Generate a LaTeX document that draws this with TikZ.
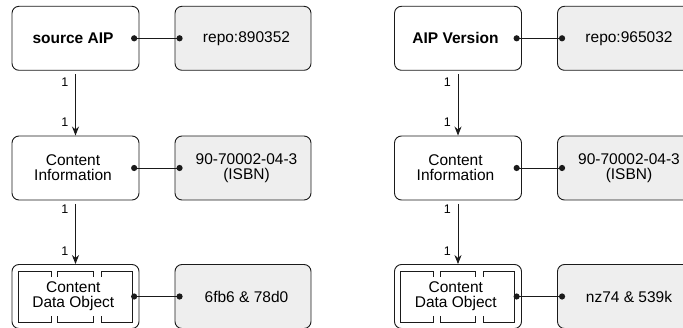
\documentclass[tikz,border=0pt]{standalone}
\usepackage{fontspec}
\setmainfont{Liberation Sans}
\usetikzlibrary{arrows.meta,calc}
\definecolor{greyfill}{HTML}{EEEEEE}
\definecolor{edge}{HTML}{1A1A1A}
\begin{document}
\begin{tikzpicture}[x=1pt,y=-1pt,
  obj/.style={draw=edge, line width=0.9pt, rounded corners=7pt, minimum width=127pt, minimum height=64pt, fill=white, inner sep=0pt},
  refbox/.style={draw=edge, line width=0.9pt, rounded corners=7pt, minimum width=136pt, minimum height=64pt, fill=greyfill, inner sep=0pt},
  txt/.style={font=\fontsize{15.5}{15}\selectfont, align=center, inner sep=0pt},
  objtxt/.style={txt, xshift=-2.5pt},
  reftxt/.style={txt, xshift=3.5pt},
  cdotxt/.style={txt, xshift=-2.2pt, fill=white, inner xsep=1pt, inner ysep=4.5pt},
  card/.style={font=\fontsize{12.5}{12.5}\selectfont, inner sep=0pt, anchor=east},
  arr/.style={draw=edge, line width=0.9pt, -{Stealth[length=9pt,width=7pt]}, shorten <=3.5pt},
  link/.style={draw=edge, line width=0.9pt},
  dotfill/.style={fill=edge},
  part/.style={draw=edge, line width=0.9pt}
]
\useasboundingbox (0,0) rectangle (683,328);

% ---------- left column ----------
\node[obj] (L1) at (75.5,38.3) {};
\node[objtxt] (L1t) at (L1) {\bfseries source AIP};
\node[refbox] (R1) at (243,38.3) {};
\node[reftxt] (R1t) at (R1) {repo:890352};

\node[obj] (L2) at (75.5,168) {};
\node[objtxt] (L2t) at (L2) {Content\\Information};
\node[refbox] (R2) at (243,168) {};
\node[reftxt] (R2t) at (R2) {90-70002-04-3\\(ISBN)};

\node[obj] (L3) at (75.5,296.5) {};
\begin{scope}[shift={(L3.center)}]
  \draw[part] (-57.2,-25.5) rectangle (-24.5,25.5);
  \draw[part] (-17.8,-25.5) rectangle (17.8,25.5);
  \draw[part] (25.5,-25.5) rectangle (56.8,25.5);
\end{scope}
\node[cdotxt] (L3t) at (L3) {Content\\Data Object};
\node[refbox] (R3) at (243,296.5) {};
\node[reftxt] (R3t) at (R3) {6fb6 \& 78d0};

% connectors left
\foreach \r in {1,2,3}{
  \coordinate (La\r) at ($(L\r.east)+(-5.3,0)$);
  \coordinate (Lb\r) at ($(R\r.west)+(5,0)$);
  \draw[link] (La\r) -- (Lb\r);
  \fill[dotfill] (La\r) circle (3.1pt);
  \fill[dotfill] (Lb\r) circle (3.1pt);
}
\draw[arr] (L1) -- (L2);
\draw[arr] (L2) -- (L3);
\node[card] (Lc1) at ($(L1.south)+(-7,11.3)$) {1};
\node[card] (Lc2) at ($(L2.north)+(-7,-13.2)$) {1};
\node[card] (Lc3) at ($(L2.south)+(-7,8.7)$) {1};
\node[card] (Lc4) at ($(L3.north)+(-7,-12.5)$) {1};

% ---------- right column ----------
\node[obj] (M1) at (458,38.3) {};
\node[objtxt] (M1t) at (M1) {\bfseries AIP Version};
\node[refbox] (S1) at (625.5,38.3) {};
\node[reftxt] (S1t) at (S1) {repo:965032};

\node[obj] (M2) at (458,168) {};
\node[objtxt] (M2t) at (M2) {Content\\Information};
\node[refbox] (S2) at (625.5,168) {};
\node[reftxt] (S2t) at (S2) {90-70002-04-3\\(ISBN)};

\node[obj] (M3) at (458,296.5) {};
\begin{scope}[shift={(M3.center)}]
  \draw[part] (-57.2,-25.5) rectangle (-24.5,25.5);
  \draw[part] (-17.8,-25.5) rectangle (17.8,25.5);
  \draw[part] (25.5,-25.5) rectangle (56.8,25.5);
\end{scope}
\node[cdotxt] (M3t) at (M3) {Content\\Data Object};
\node[refbox] (S3) at (625.5,296.5) {};
\node[reftxt] (S3t) at (S3) {nz74 \& 539k};

\foreach \r in {1,2,3}{
  \coordinate (Ma\r) at ($(M\r.east)+(-5.3,0)$);
  \coordinate (Mb\r) at ($(S\r.west)+(5,0)$);
  \draw[link] (Ma\r) -- (Mb\r);
  \fill[dotfill] (Ma\r) circle (3.1pt);
  \fill[dotfill] (Mb\r) circle (3.1pt);
}
\draw[arr] (M1) -- (M2);
\draw[arr] (M2) -- (M3);
\node[card] (Mc1) at ($(M1.south)+(-7,11.3)$) {1};
\node[card] (Mc2) at ($(M2.north)+(-7,-13.2)$) {1};
\node[card] (Mc3) at ($(M2.south)+(-7,8.7)$) {1};
\node[card] (Mc4) at ($(M3.north)+(-7,-12.5)$) {1};
\end{tikzpicture}
\end{document}
